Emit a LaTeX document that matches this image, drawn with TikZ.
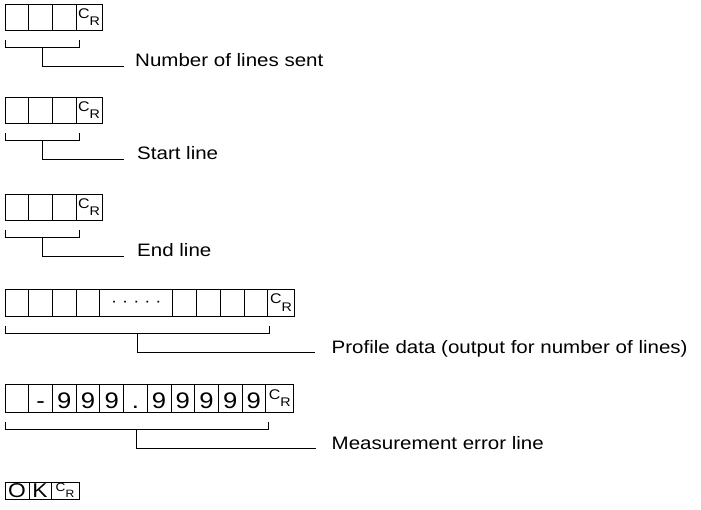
\documentclass[tikz,border=0pt]{standalone}
\usepackage{fontspec}
\setmainfont{Liberation Sans}[FakeStretch=1.14]
\newfontfamily\lblfont[FakeStretch=1.14]{Liberation Sans}
\usetikzlibrary{positioning}
\newcommand\crsign{{\fontsize{14}{14}\selectfont C\raisebox{-7.5pt}{\fontsize{12.5}{12.5}\selectfont R}}}
\tikzset{
cell/.style={draw,line width=.8pt,minimum width=23.7pt,minimum height=26pt,inner sep=0pt,outer sep=0pt,text height=20.5pt,text depth=0pt,font=\fontsize{22.5}{22.5}\selectfont},
crcell/.style={cell,minimum width=26pt,text height=10pt,text depth=7.5pt},
okcell/.style={cell,minimum height=17pt,text height=14.4pt,font=\fontsize{20}{20}\selectfont},
brace/.style={line width=.8pt},
lbl/.style={anchor=base west,inner sep=0pt,font=\lblfont\fontsize{18}{22}\selectfont}
}
\begin{document}
\begin{tikzpicture}[x=1pt,y=-1pt,node distance=0pt]
\useasboundingbox (0,0) rectangle (701,510);
\node[cell,anchor=north west] (nl1) at (5,4) {};
\node[cell,right=of nl1] (nl2) {};
\node[cell,right=of nl2] (nl3) {};
\node[crcell,right=of nl3] (nlcr) {\crsign};
\draw[brace] ([yshift=-10pt]nl1.south west) -- ++(0,-7pt) -| coordinate[pos=.25] (nlm) ([xshift=3pt,yshift=-10pt]nlcr.south west);
\coordinate (nle) at (124,66);
\draw[brace] (nlm) |- (nle);
\node[lbl] (nltxt) at (135,67) {Number of lines sent};

\node[cell,anchor=north west] (st1) at (5,97) {};
\node[cell,right=of st1] (st2) {};
\node[cell,right=of st2] (st3) {};
\node[crcell,right=of st3] (stcr) {\crsign};
\draw[brace] ([yshift=-10pt]st1.south west) -- ++(0,-7pt) -| coordinate[pos=.25] (stm) ([xshift=3pt,yshift=-10pt]stcr.south west);
\coordinate (ste) at (124,159);
\draw[brace] (stm) |- (ste);
\node[lbl] (sttxt) at (137,160) {Start line};

\node[cell,anchor=north west] (en1) at (5,194) {};
\node[cell,right=of en1] (en2) {};
\node[cell,right=of en2] (en3) {};
\node[crcell,right=of en3] (encr) {\crsign};
\draw[brace] ([yshift=-10pt]en1.south west) -- ++(0,-7pt) -| coordinate[pos=.25] (enm) ([xshift=3pt,yshift=-10pt]encr.south west);
\coordinate (ene) at (124,256);
\draw[brace] (enm) |- (ene);
\node[lbl] (entxt) at (137,257) {End line};

\node[cell,minimum height=27pt,anchor=north west] (pd1) at (5,289) {};
\node[cell,minimum height=27pt,right=of pd1] (pd2) {};
\node[cell,minimum height=27pt,right=of pd2] (pd3) {};
\node[cell,minimum height=27pt,right=of pd3] (pd4) {};
\node[cell,minimum height=27pt,minimum width=73pt,text height=12pt,right=of pd4,font=\fontsize{16}{16}\selectfont] (pddots) {\raisebox{1.5pt}{·\hspace{5pt}·\hspace{5pt}·\hspace{5pt}·\hspace{5pt}·}};
\node[cell,minimum height=27pt,right=of pddots] (pd5) {};
\node[cell,minimum height=27pt,right=of pd5] (pd6) {};
\node[cell,minimum height=27pt,right=of pd6] (pd7) {};
\node[cell,minimum height=27pt,right=of pd7] (pd8) {};
\node[crcell,minimum height=27pt,minimum width=27pt,right=of pd8] (pdcr) {\crsign};
\draw[brace] ([yshift=-10pt]pd1.south west) -- ++(0,-7pt) -| coordinate[pos=.25] (pdm) ([xshift=2pt,yshift=-10pt]pdcr.south west);
\coordinate (pde) at (315,352);
\draw[brace] (pdm) |- (pde);
\node[lbl] (pdtxt) at (331.5,353) {Profile data (output for number of lines)};

\node[cell,minimum height=28pt,anchor=north west] (me1) at (5,384) {};
\node[cell,minimum height=28pt,right=of me1] (me2) {-};
\node[cell,minimum height=28pt,right=of me2] (me3) {9};
\node[cell,minimum height=28pt,right=of me3] (me4) {9};
\node[cell,minimum height=28pt,right=of me4] (me5) {9};
\node[cell,minimum height=28pt,right=of me5] (me6) {.};
\node[cell,minimum height=28pt,right=of me6] (me7) {9};
\node[cell,minimum height=28pt,right=of me7] (me8) {9};
\node[cell,minimum height=28pt,right=of me8] (me9) {9};
\node[cell,minimum height=28pt,right=of me9] (me10) {9};
\node[cell,minimum height=28pt,right=of me10] (me11) {9};
\node[crcell,minimum height=28pt,minimum width=28pt,right=of me11] (mecr) {\crsign};
\draw[brace] ([yshift=-10pt]me1.south west) -- ++(0,-7pt) -| coordinate[pos=.25] (mem) ([xshift=3pt,yshift=-10pt]mecr.south west);
\coordinate (mee) at (316,448);
\draw[brace] (mem) |- (mee);
\node[lbl] (metxt) at (331.5,449) {Measurement error line};

\node[okcell,minimum width=24pt,anchor=north west] (ok1) at (5,482) {O};
\node[okcell,minimum width=22pt,right=of ok1] (ok2) {K};
\node[crcell,minimum height=17pt,minimum width=28pt,text height=8.5pt,text depth=6.4pt,right=of ok2] (okcr) {\scalebox{.85}{\crsign}};
\end{tikzpicture}
\end{document}
